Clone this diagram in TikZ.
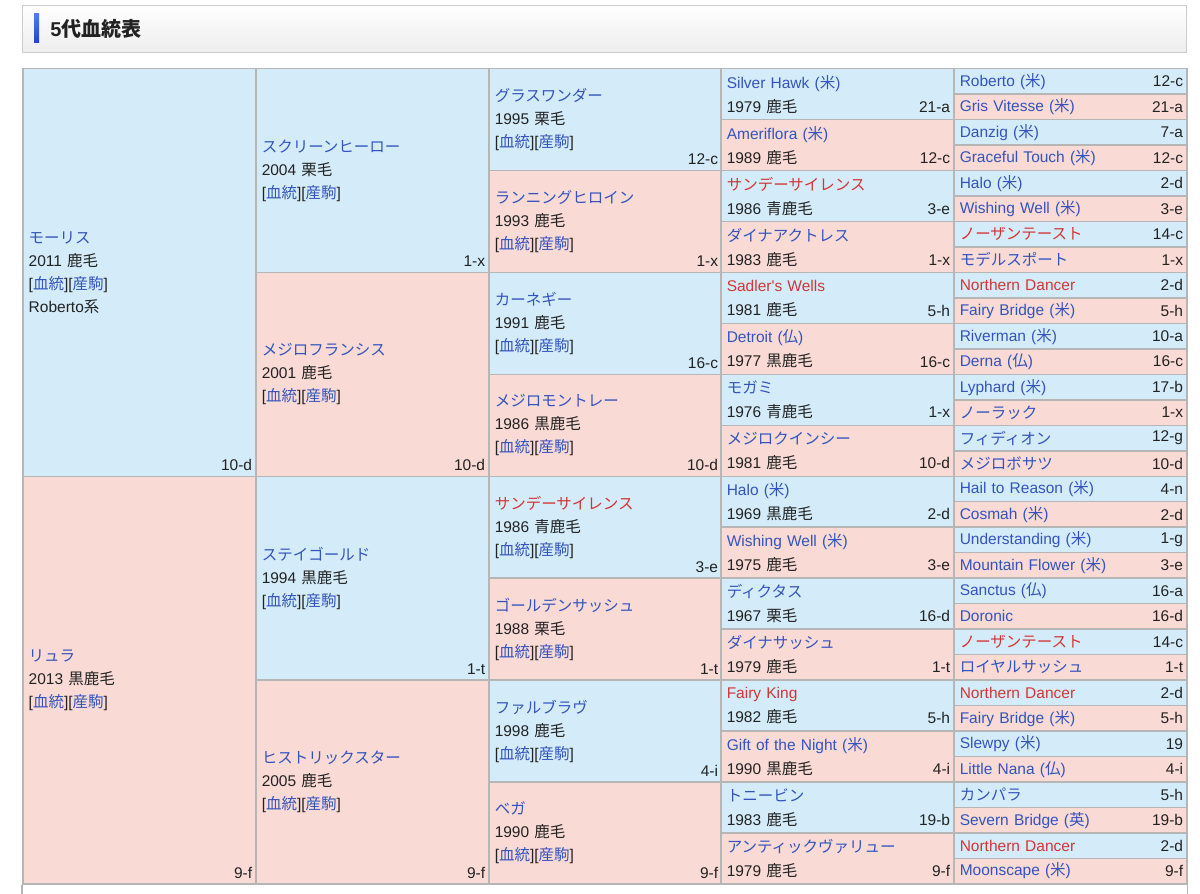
\documentclass[tikz,border=0pt]{standalone}
\usepackage{fontspec}
\setmainfont{Liberation Sans}
\newfontfamily\jp{Noto Sans CJK JP}

\definecolor{azul}{RGB}{212,236,249}
\definecolor{rosa}{RGB}{249,218,213}
\definecolor{lnk}{RGB}{51,84,190}
\definecolor{verm}{RGB}{214,52,52}
\definecolor{preto}{RGB}{34,34,34}
\definecolor{linha}{RGB}{182,182,182}
\definecolor{barra1}{RGB}{82,122,240}
\definecolor{barra2}{RGB}{36,70,200}

\newcommand\lks{[{\color{lnk}\jp 血統}][{\color{lnk}\jp 産駒}]}
\newcommand\pais[1]{({\jp #1})}
\newcommand\nomeazul[1]{\textcolor{lnk}{#1}}
\newcommand\nomeverm[1]{\textcolor{verm}{#1}}

\tikzset{
  cel/.style={draw=linha, line width=0.75pt, anchor=north west, inner xsep=3pt, inner ysep=0pt,
    text width=110.5pt, align=left, text=preto, font=\fontsize{7.75}{11.5}\selectfont},
  g1/.style={cel, minimum height=203.76pt},
  g2/.style={cel, minimum height=101.88pt},
  g3/.style={cel, minimum height=50.94pt},
  g4/.style={cel, minimum height=25.47pt, font=\fontsize{7.75}{12}\selectfont},
  g5/.style={cel, minimum height=12.735pt},
  cod/.style={inner sep=0pt, anchor=base east, xshift=-2pt, yshift=3.25pt, text=preto, font=\fontsize{7.75}{11.5}\selectfont},
  cod4/.style={cod, yshift=0.8pt},
  cod5/.style={inner sep=0pt, anchor=east, xshift=-2pt, text=preto, font=\fontsize{7.75}{11.5}\selectfont}
}

\begin{document}
\begin{tikzpicture}[x=0.5pt, y=-12.735pt]
\useasboundingbox (0,-2.6698) rectangle (1200,32.4305);

% cabecalho
\node[anchor=north west, top color=white, bottom color=gray!14, draw=gray!40, line width=0.6pt,
  minimum width=582pt, minimum height=23.5pt, inner sep=0pt] (cab) at (22,-2.4735) {};
\shade[top color=barra1, bottom color=barra2] (34,-2.12) rectangle (39,-1.02);
\node[anchor=west, inner sep=0pt, text=preto, font=\bfseries\fontsize{10}{12}\selectfont] (titulo) at (50,-1.551) {5{\jp\bfseries 代血統表}};

% geracao 1
\node[g1, fill=azul, label={[cod]south east:10-d}] (p) at (22,0) {\nomeazul{\jp モーリス}\\2011 {\jp 鹿毛}\\\lks\\Roberto{\jp 系}};
\node[g1, fill=rosa, label={[cod]south east:9-f}] (m) at (22,16) {\nomeazul{\jp リュラ}\\2013 {\jp 黒鹿毛}\\\lks};

% geracao 2
\node[g2, fill=azul, label={[cod]south east:1-x}] (pp) at (255,0) {\nomeazul{\jp スクリーンヒーロー}\\2004 {\jp 栗毛}\\\lks};
\node[g2, fill=rosa, label={[cod]south east:10-d}] (pm) at (255,8) {\nomeazul{\jp メジロフランシス}\\2001 {\jp 鹿毛}\\\lks};
\node[g2, fill=azul, label={[cod]south east:1-t}] (mp) at (255,16) {\nomeazul{\jp ステイゴールド}\\1994 {\jp 黒鹿毛}\\\lks};
\node[g2, fill=rosa, label={[cod]south east:9-f}] (mm) at (255,24) {\nomeazul{\jp ヒストリックスター}\\2005 {\jp 鹿毛}\\\lks};

% geracao 3
\node[g3, fill=azul, label={[cod]south east:12-c}] (ppp) at (488,0) {\nomeazul{\jp グラスワンダー}\\1995 {\jp 栗毛}\\\lks};
\node[g3, fill=rosa, label={[cod]south east:1-x}] (ppm) at (488,4) {\nomeazul{\jp ランニングヒロイン}\\1993 {\jp 鹿毛}\\\lks};
\node[g3, fill=azul, label={[cod]south east:16-c}] (pmp) at (488,8) {\nomeazul{\jp カーネギー}\\1991 {\jp 鹿毛}\\\lks};
\node[g3, fill=rosa, label={[cod]south east:10-d}] (pmm) at (488,12) {\nomeazul{\jp メジロモントレー}\\1986 {\jp 黒鹿毛}\\\lks};
\node[g3, fill=azul, label={[cod]south east:3-e}] (mpp) at (488,16) {\nomeverm{\jp サンデーサイレンス}\\1986 {\jp 青鹿毛}\\\lks};
\node[g3, fill=rosa, label={[cod]south east:1-t}] (mpm) at (488,20) {\nomeazul{\jp ゴールデンサッシュ}\\1988 {\jp 栗毛}\\\lks};
\node[g3, fill=azul, label={[cod]south east:4-i}] (mmp) at (488,24) {\nomeazul{\jp ファルブラヴ}\\1998 {\jp 鹿毛}\\\lks};
\node[g3, fill=rosa, label={[cod]south east:9-f}] (mmm) at (488,28) {\nomeazul{\jp ベガ}\\1990 {\jp 鹿毛}\\\lks};

% geracao 4
\node[g4, fill=azul, label={[cod4]south east:21-a}] (pppp) at (720,0) {\nomeazul{Silver Hawk \pais{米}}\\1979 {\jp 鹿毛}};
\node[g4, fill=rosa, label={[cod4]south east:12-c}] (pppm) at (720,2) {\nomeazul{Ameriflora \pais{米}}\\1989 {\jp 鹿毛}};
\node[g4, fill=azul, label={[cod4]south east:3-e}] (ppmp) at (720,4) {\nomeverm{\jp サンデーサイレンス}\\1986 {\jp 青鹿毛}};
\node[g4, fill=rosa, label={[cod4]south east:1-x}] (ppmm) at (720,6) {\nomeazul{\jp ダイナアクトレス}\\1983 {\jp 鹿毛}};
\node[g4, fill=azul, label={[cod4]south east:5-h}] (pmpp) at (720,8) {\nomeverm{Sadler\textquotesingle s Wells}\\1981 {\jp 鹿毛}};
\node[g4, fill=rosa, label={[cod4]south east:16-c}] (pmpm) at (720,10) {\nomeazul{Detroit \pais{仏}}\\1977 {\jp 黒鹿毛}};
\node[g4, fill=azul, label={[cod4]south east:1-x}] (pmmp) at (720,12) {\nomeazul{\jp モガミ}\\1976 {\jp 青鹿毛}};
\node[g4, fill=rosa, label={[cod4]south east:10-d}] (pmmm) at (720,14) {\nomeazul{\jp メジロクインシー}\\1981 {\jp 鹿毛}};
\node[g4, fill=azul, label={[cod4]south east:2-d}] (mppp) at (720,16) {\nomeazul{Halo \pais{米}}\\1969 {\jp 黒鹿毛}};
\node[g4, fill=rosa, label={[cod4]south east:3-e}] (mppm) at (720,18) {\nomeazul{Wishing Well \pais{米}}\\1975 {\jp 鹿毛}};
\node[g4, fill=azul, label={[cod4]south east:16-d}] (mpmp) at (720,20) {\nomeazul{\jp ディクタス}\\1967 {\jp 栗毛}};
\node[g4, fill=rosa, label={[cod4]south east:1-t}] (mpmm) at (720,22) {\nomeazul{\jp ダイナサッシュ}\\1979 {\jp 鹿毛}};
\node[g4, fill=azul, label={[cod4]south east:5-h}] (mmpp) at (720,24) {\nomeverm{Fairy King}\\1982 {\jp 鹿毛}};
\node[g4, fill=rosa, label={[cod4]south east:4-i}] (mmpm) at (720,26) {\nomeazul{Gift of the Night \pais{米}}\\1990 {\jp 黒鹿毛}};
\node[g4, fill=azul, label={[cod4]south east:19-b}] (mmmp) at (720,28) {\nomeazul{\jp トニービン}\\1983 {\jp 鹿毛}};
\node[g4, fill=rosa, label={[cod4]south east:9-f}] (mmmm) at (720,30) {\nomeazul{\jp アンティックヴァリュー}\\1979 {\jp 鹿毛}};

% geracao 5
\node[g5, fill=azul, text=lnk, label={[cod5]east:12-c}] (t0) at (953,0) {Roberto \pais{米}};
\node[g5, fill=rosa, text=lnk, label={[cod5]east:21-a}] (t1) at (953,1) {Gris Vitesse \pais{米}};
\node[g5, fill=azul, text=lnk, label={[cod5]east:7-a}] (t2) at (953,2) {Danzig \pais{米}};
\node[g5, fill=rosa, text=lnk, label={[cod5]east:12-c}] (t3) at (953,3) {Graceful Touch \pais{米}};
\node[g5, fill=azul, text=lnk, label={[cod5]east:2-d}] (t4) at (953,4) {Halo \pais{米}};
\node[g5, fill=rosa, text=lnk, label={[cod5]east:3-e}] (t5) at (953,5) {Wishing Well \pais{米}};
\node[g5, fill=azul, text=verm, label={[cod5]east:14-c}] (t6) at (953,6) {{\jp ノーザンテースト}};
\node[g5, fill=rosa, text=lnk, label={[cod5]east:1-x}] (t7) at (953,7) {{\jp モデルスポート}};
\node[g5, fill=azul, text=verm, label={[cod5]east:2-d}] (t8) at (953,8) {Northern Dancer};
\node[g5, fill=rosa, text=lnk, label={[cod5]east:5-h}] (t9) at (953,9) {Fairy Bridge \pais{米}};
\node[g5, fill=azul, text=lnk, label={[cod5]east:10-a}] (t10) at (953,10) {Riverman \pais{米}};
\node[g5, fill=rosa, text=lnk, label={[cod5]east:16-c}] (t11) at (953,11) {Derna \pais{仏}};
\node[g5, fill=azul, text=lnk, label={[cod5]east:17-b}] (t12) at (953,12) {Lyphard \pais{米}};
\node[g5, fill=rosa, text=lnk, label={[cod5]east:1-x}] (t13) at (953,13) {{\jp ノーラック}};
\node[g5, fill=azul, text=lnk, label={[cod5]east:12-g}] (t14) at (953,14) {{\jp フィディオン}};
\node[g5, fill=rosa, text=lnk, label={[cod5]east:10-d}] (t15) at (953,15) {{\jp メジロボサツ}};
\node[g5, fill=azul, text=lnk, label={[cod5]east:4-n}] (t16) at (953,16) {Hail to Reason \pais{米}};
\node[g5, fill=rosa, text=lnk, label={[cod5]east:2-d}] (t17) at (953,17) {Cosmah \pais{米}};
\node[g5, fill=azul, text=lnk, label={[cod5]east:1-g}] (t18) at (953,18) {Understanding \pais{米}};
\node[g5, fill=rosa, text=lnk, label={[cod5]east:3-e}] (t19) at (953,19) {Mountain Flower \pais{米}};
\node[g5, fill=azul, text=lnk, label={[cod5]east:16-a}] (t20) at (953,20) {Sanctus \pais{仏}};
\node[g5, fill=rosa, text=lnk, label={[cod5]east:16-d}] (t21) at (953,21) {Doronic};
\node[g5, fill=azul, text=verm, label={[cod5]east:14-c}] (t22) at (953,22) {{\jp ノーザンテースト}};
\node[g5, fill=rosa, text=lnk, label={[cod5]east:1-t}] (t23) at (953,23) {{\jp ロイヤルサッシュ}};
\node[g5, fill=azul, text=verm, label={[cod5]east:2-d}] (t24) at (953,24) {Northern Dancer};
\node[g5, fill=rosa, text=lnk, label={[cod5]east:5-h}] (t25) at (953,25) {Fairy Bridge \pais{米}};
\node[g5, fill=azul, text=lnk, label={[cod5]east:19}] (t26) at (953,26) {Slewpy \pais{米}};
\node[g5, fill=rosa, text=lnk, label={[cod5]east:4-i}] (t27) at (953,27) {Little Nana \pais{仏}};
\node[g5, fill=azul, text=lnk, label={[cod5]east:5-h}] (t28) at (953,28) {{\jp カンパラ}};
\node[g5, fill=rosa, text=lnk, label={[cod5]east:19-b}] (t29) at (953,29) {Severn Bridge \pais{英}};
\node[g5, fill=azul, text=verm, label={[cod5]east:2-d}] (t30) at (953,30) {Northern Dancer};
\node[g5, fill=rosa, text=lnk, label={[cod5]east:9-f}] (t31) at (953,31) {Moonscape \pais{米}};

% linha de baixo
\draw[linha, line width=0.75pt] (m.south west) -- ++(0,0.5);
\draw[linha, line width=0.75pt] (t31.south east) -- ++(0,0.5);

\end{tikzpicture}
\end{document}
